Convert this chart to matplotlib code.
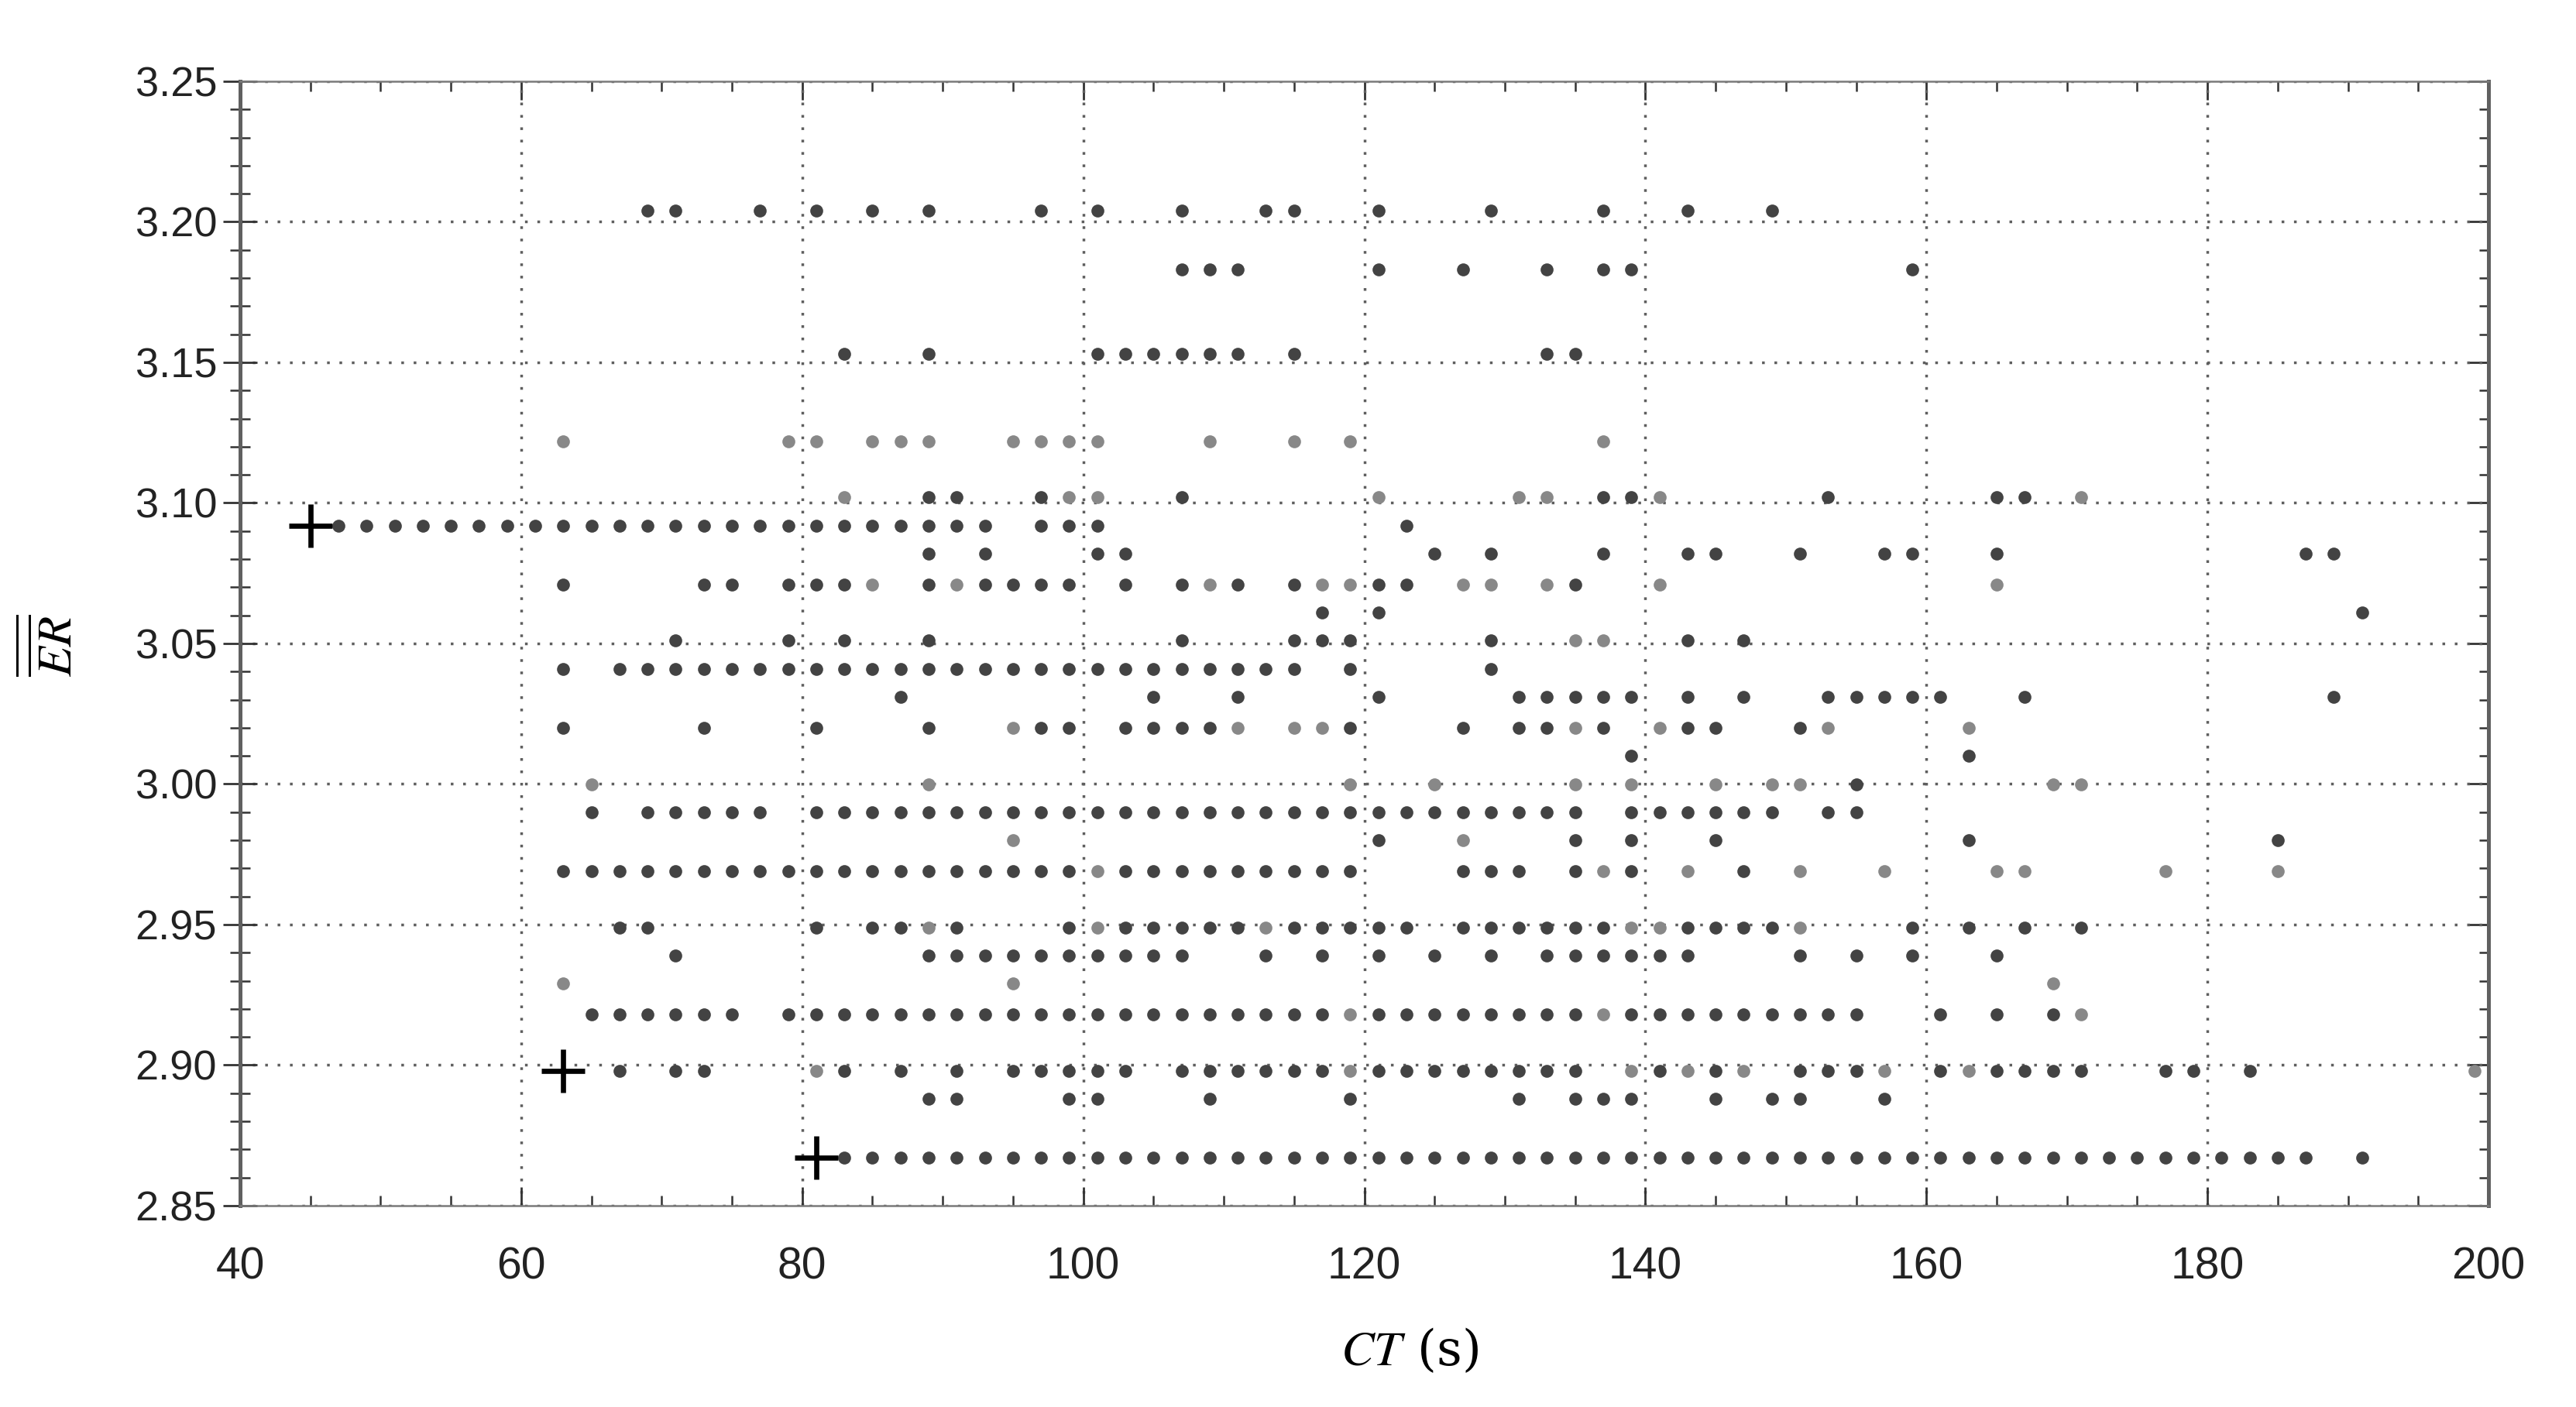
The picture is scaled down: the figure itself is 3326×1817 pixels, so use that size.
import matplotlib
matplotlib.use('Agg')
import matplotlib.pyplot as plt
from matplotlib.ticker import MultipleLocator, FormatStrFormatter

# ER levels (rows of the scatter) and the CT values found on each row
er_levels = [3.204, 3.183, 3.153, 3.122, 3.102, 3.092, 3.082, 3.071, 3.061,
             3.051, 3.041, 3.031, 3.020, 3.010, 3.000, 2.990, 2.980, 2.969,
             2.949, 2.939, 2.929, 2.918, 2.898, 2.888, 2.867]

dark_ct = [
    [69, 71, 77, 81, 85, 89, 97, 101, 107, 113, 115, 121, 129, 137, 143, 149],
    [107, 109, 111, 121, 127, 133, 137, 139, 159],
    [83, 89, 101, 103, 105, 107, 109, 111, 115, 133, 135],
    [],
    [89, 91, 97, 107, 137, 139, 153, 165, 167],
    [47, 49, 51, 53, 55, 57, 59, 61, 63, 65, 67, 69, 71, 73, 75, 77, 79, 81,
     83, 85, 87, 89, 91, 93, 97, 99, 101, 123],
    [89, 93, 101, 103, 125, 129, 137, 143, 145, 151, 157, 159, 165, 187, 189],
    [63, 73, 75, 79, 81, 83, 89, 93, 95, 97, 99, 103, 107, 111, 115, 121, 123, 135],
    [117, 121, 191],
    [71, 79, 83, 89, 107, 115, 117, 119, 129, 143, 147],
    [63, 67, 69, 71, 73, 75, 77, 79, 81, 83, 85, 87, 89, 91, 93, 95, 97, 99,
     101, 103, 105, 107, 109, 111, 113, 115, 119, 129],
    [87, 105, 111, 121, 131, 133, 135, 137, 139, 143, 147, 153, 155, 157, 159,
     161, 167, 189],
    [63, 73, 81, 89, 97, 99, 103, 105, 107, 109, 119, 127, 131, 133, 137, 143,
     145, 151],
    [139, 163],
    [155],
    [65, 69, 71, 73, 75, 77, 81, 83, 85, 87, 89, 91, 93, 95, 97, 99, 101, 103,
     105, 107, 109, 111, 113, 115, 117, 119, 121, 123, 125, 127, 129, 131, 133,
     135, 139, 141, 143, 145, 147, 149, 153, 155],
    [121, 135, 139, 145, 163, 185],
    [63, 65, 67, 69, 71, 73, 75, 77, 79, 81, 83, 85, 87, 89, 91, 93, 95, 97, 99,
     103, 105, 107, 109, 111, 113, 115, 117, 119, 127, 129, 131, 135, 139, 147],
    [67, 69, 81, 85, 87, 91, 99, 103, 105, 107, 109, 111, 115, 117, 119, 121,
     123, 127, 129, 131, 133, 135, 137, 143, 145, 147, 149, 159, 163, 167, 171],
    [71, 89, 91, 93, 95, 97, 99, 101, 103, 105, 107, 113, 117, 121, 125, 129,
     133, 135, 137, 139, 141, 143, 151, 155, 159, 165],
    [],
    [65, 67, 69, 71, 73, 75, 79, 81, 83, 85, 87, 89, 91, 93, 95, 97, 99, 101,
     103, 105, 107, 109, 111, 113, 115, 117, 121, 123, 125, 127, 129, 131, 133,
     135, 139, 141, 143, 145, 147, 149, 151, 153, 155, 161, 165, 169],
    [67, 71, 73, 83, 87, 91, 95, 97, 99, 101, 103, 107, 109, 111, 113, 115, 117,
     121, 123, 125, 127, 129, 131, 133, 135, 141, 145, 151, 153, 155, 161, 165,
     167, 169, 171, 177, 179, 183],
    [89, 91, 99, 101, 109, 119, 131, 135, 137, 139, 145, 149, 151, 157],
    [83, 85, 87, 89, 91, 93, 95, 97, 99, 101, 103, 105, 107, 109, 111, 113, 115,
     117, 119, 121, 123, 125, 127, 129, 131, 133, 135, 137, 139, 141, 143, 145,
     147, 149, 151, 153, 155, 157, 159, 161, 163, 165, 167, 169, 171, 173, 175,
     177, 179, 181, 183, 185, 187, 191],
]

gray_ct = [
    [],
    [],
    [],
    [63, 79, 81, 85, 87, 89, 95, 97, 99, 101, 109, 115, 119, 137],
    [83, 99, 101, 121, 131, 133, 141, 171],
    [],
    [],
    [85, 91, 109, 117, 119, 127, 129, 133, 141, 165],
    [],
    [135, 137],
    [],
    [],
    [95, 111, 115, 117, 135, 141, 153, 163],
    [],
    [65, 89, 119, 125, 135, 139, 145, 149, 151, 169, 171],
    [],
    [95, 127],
    [101, 137, 143, 151, 157, 165, 167, 177, 185],
    [89, 101, 113, 139, 141, 151],
    [],
    [63, 95, 169],
    [119, 137, 171],
    [81, 119, 139, 143, 147, 157, 163, 199],
    [],
    [],
]

# highlighted solutions (crosses)
cross_ct = [45, 63, 81]
cross_er = [3.092, 2.898, 2.867]

dark_x, dark_y, gray_x, gray_y = [], [], [], []
for er, dk, gr in zip(er_levels, dark_ct, gray_ct):
    dark_x += dk
    dark_y += [er] * len(dk)
    gray_x += gr
    gray_y += [er] * len(gr)

plt.rcParams['font.family'] = ['Liberation Sans', 'DejaVu Sans']
plt.rcParams['mathtext.fontset'] = 'stix'

W, H, DPI = 3326, 1817, 200
fig = plt.figure(figsize=(W / DPI, H / DPI), dpi=DPI)
ax = fig.add_axes([310 / W, 1 - 1557 / H, (3213 - 310) / W, (1557 - 105) / H])

ax.plot(gray_x, gray_y, 'o', ms=6.0, mew=0, color='#888888', zorder=3)
ax.plot(dark_x, dark_y, 'o', ms=6.0, mew=0, color='#434343', zorder=3)
ax.plot(cross_ct, cross_er, '+', ms=20, mew=2.4, color='black', zorder=4)

ax.set_xlim(40, 200)
ax.set_ylim(2.85, 3.25)
ax.xaxis.set_major_locator(MultipleLocator(20))
ax.xaxis.set_minor_locator(MultipleLocator(5))
ax.yaxis.set_major_locator(MultipleLocator(0.05))
ax.yaxis.set_minor_locator(MultipleLocator(0.01))
ax.yaxis.set_major_formatter(FormatStrFormatter('%.2f'))

ax.grid(True, which='major', color='#5e5e5e', lw=1.25, ls=(0, (1, 3.6)))
ax.set_axisbelow(True)

ax.tick_params(axis='y', which='major', direction='inout', length=15.5,
               width=1.0, color='#333333', labelsize=19.5, pad=3,
               labelcolor='#222222')
ax.tick_params(axis='y', which='minor', direction='inout', length=9.6,
               width=0.9, color='#333333')
ax.tick_params(axis='x', which='major', direction='in', length=8.6,
               width=1.0, color='#333333', labelsize=20.5, pad=19,
               labelcolor='#222222')
ax.tick_params(axis='x', which='minor', direction='in', length=4.7,
               width=0.9, color='#333333')

for side in ['top', 'bottom']:
    ax.spines[side].set_color('#7a7a7a')
    ax.spines[side].set_linewidth(0.9)
for side in ['left', 'right']:
    ax.spines[side].set_color('#606060')
    ax.spines[side].set_linewidth(1.8)

# inward ticks on the right and top frames
ry = ax.secondary_yaxis('right')
ry.yaxis.set_major_locator(MultipleLocator(0.05))
ry.yaxis.set_minor_locator(MultipleLocator(0.01))
ry.tick_params(which='major', direction='in', length=9.5, width=1.0,
               color='#333333', labelright=False)
ry.tick_params(which='minor', direction='in', length=4.3, width=0.9,
               color='#333333')
ry.spines['right'].set_visible(False)

tx = ax.secondary_xaxis('top')
tx.xaxis.set_major_locator(MultipleLocator(20))
tx.xaxis.set_minor_locator(MultipleLocator(5))
tx.tick_params(which='major', direction='in', length=8.6, width=1.0,
               color='#333333', labeltop=False)
tx.tick_params(which='minor', direction='in', length=4.7, width=0.9,
               color='#333333')
tx.spines['top'].set_visible(False)

fig.text(1820 / W, 1 - 1745 / H, r'$CT$ (s)', fontsize=23,
         family='DejaVu Serif', ha='center', va='center')
fig.text(67 / W, 1 - 834 / H, r'$\overline{\overline{ER}}$', fontsize=23,
         rotation=90, ha='center', va='center')

fig.savefig('out.png', dpi=DPI, facecolor='white')
